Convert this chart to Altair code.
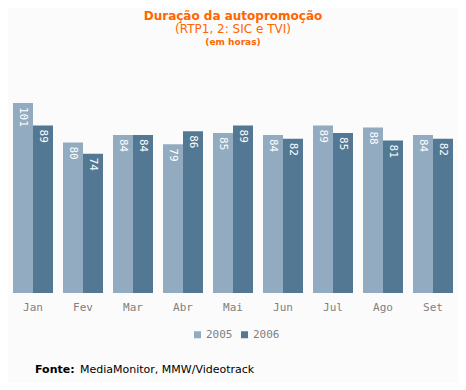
import altair as alt
import pandas as pd

months = ["Jan", "Fev", "Mar", "Abr", "Mai", "Jun", "Jul", "Ago", "Set"]
v2005 = [101, 80, 84, 79, 85, 84, 89, 88, 84]
v2006 = [89, 74, 84, 86, 89, 82, 85, 81, 82]
years = ["2005", "2006"]
colors = ["#92abc0", "#537893"]

rows = []
for m, a, b in zip(months, v2005, v2006):
    rows.append({"mes": m, "ano": "2005", "valor": a})
    rows.append({"mes": m, "ano": "2006", "valor": b})
df = pd.DataFrame(rows)

orange = "#ff6600"
sans = "DejaVu Sans"
mono = "DejaVu Sans Mono"

x = alt.X("mes:N", sort=months, title=None,
          scale=alt.Scale(paddingInner=0.2, paddingOuter=0.1),
          axis=alt.Axis(labelAngle=0, ticks=False, domain=False, grid=False,
                        labelFont=mono, labelFontSize=11, labelColor="#808080",
                        labelPadding=8))
y = alt.Y("valor:Q", scale=alt.Scale(domain=[0, 110], nice=False), axis=None)
xo = alt.XOffset("ano:N", sort=years, scale=alt.Scale(paddingInner=0, paddingOuter=0))

base = alt.Chart(df)
bars = base.mark_bar().encode(
    x=x, y=y, xOffset=xo,
    color=alt.Color("ano:N", sort=years, scale=alt.Scale(domain=years, range=colors),
                    legend=alt.Legend(title=None, orient="none", direction="horizontal",
                                      legendX=184, legendY=243, symbolType="square",
                                      symbolSize=49, symbolStrokeWidth=0,
                                      labelFont=mono, labelFontSize=11,
                                      labelColor="#808080", labelOffset=3,
                                      columnPadding=6)),
)
labels = base.mark_text(angle=90, align="left", baseline="middle", dx=4,
                        color="white", font=mono, fontSize=11).encode(
    x=x, y=y, xOffset=xo, text="valor:Q"
)

one = alt.Data(values=[{}])


def txt(s, xpos, ypos, size, weight="normal", color=orange, align="center"):
    return alt.Chart(one).mark_text(
        font=sans, fontSize=size, fontWeight=weight, color=color,
        align=align, baseline="middle"
    ).encode(x=alt.value(xpos), y=alt.value(ypos), text=alt.value(s))


t1 = txt("Duração da autopromoção", 225, -70, 12, "bold")
t2 = txt("(RTP1, 2: SIC e TVI)", 225, -57, 12)
t3 = txt("(em horas)", 225, -44, 9, "bold")
f1 = txt("Fonte:", 27, 284, 11, "bold", "#000000", "left")
f2 = txt("MediaMonitor, MMW/Videotrack", 72, 284, 11, "normal", "#000000", "left")

chart = alt.layer(bars, labels, t1, t2, t3, f1, f2).properties(
    width=450, height=207,
    autosize=alt.AutoSizeParams(type="none"),
    padding={"left": 0, "top": 78, "right": 0, "bottom": 90},
    background="#fbfbfb",
).configure_view(stroke=None)

chart.save("out.html", embed_options={"renderer": "svg", "actions": False})
